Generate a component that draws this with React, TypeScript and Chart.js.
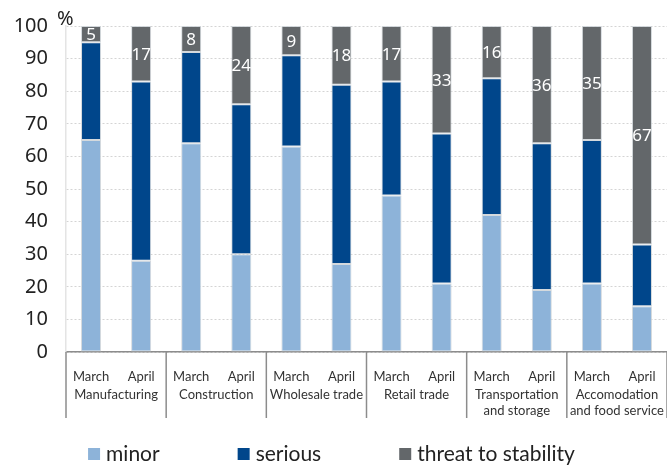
import React, { useEffect, useRef } from "react";
import { Chart, registerables } from "chart.js";

Chart.register(...registerables);

const categories = ["March", "April", "March", "April", "March", "April", "March", "April", "March", "April", "March", "April"];
const groups = [
  ["Manufacturing"],
  ["Construction"],
  ["Wholesale trade"],
  ["Retail trade"],
  ["Transportation", "and storage"],
  ["Accomodation", "and food service"],
];
const minor = [65, 28, 64, 30, 63, 27, 48, 21, 42, 19, 21, 14];
const serious = [30, 55, 28, 46, 28, 55, 35, 46, 42, 45, 44, 19];
const threat = [5, 17, 8, 24, 9, 18, 17, 33, 16, 36, 35, 67];
const seriesNames = ["minor", "serious", "threat to stability"];
const seriesColors = ["#8DB3D9", "#00468B", "#63676A"];
const yTicks = [0, 10, 20, 30, 40, 50, 60, 70, 80, 90, 100];

const CAT_FONT = "13px Lato, 'Noto Sans', sans-serif";
const LEGEND_FONT = "21px Lato, 'Noto Sans', sans-serif";

const extrasPlugin = {
  id: "extras",
  afterDraw(chart: any) {
    const ctx = chart.ctx;
    const xs = chart.scales.x;
    const ys = chart.scales.y;
    const area = chart.chartArea;
    const half = (xs.getPixelForValue(1) - xs.getPixelForValue(0)) / 2;
    ctx.save();
    // separators & group labels
    ctx.strokeStyle = "#8c8c8c";
    ctx.lineWidth = 1.5;
    for (let g = 0; g <= groups.length; g++) {
      const bx = g < groups.length ? xs.getPixelForValue(2 * g) - half : xs.getPixelForValue(2 * g - 1) + half;
      ctx.beginPath();
      ctx.moveTo(bx, area.bottom);
      ctx.lineTo(bx, area.bottom + 66);
      ctx.stroke();
    }
    ctx.fillStyle = "#333";
    ctx.font = CAT_FONT;
    ctx.textAlign = "center";
    ctx.textBaseline = "middle";
    groups.forEach((lines, g) => {
      const cx = (xs.getPixelForValue(2 * g) + xs.getPixelForValue(2 * g + 1)) / 2;
      lines.forEach((t, i) => ctx.fillText(t, cx, area.bottom + 43 + i * 16));
    });
    // percent sign
    ctx.fillStyle = "#222";
    ctx.font = "20px 'Noto Sans', sans-serif";
    ctx.textAlign = "left";
    ctx.fillText("%", area.left - 9, ys.getPixelForValue(100) - 7);
    // data labels on threat
    const meta = chart.getDatasetMeta(2);
    ctx.fillStyle = "#ffffff";
    ctx.font = "17px 'Noto Sans', sans-serif";
    ctx.textAlign = "center";
    meta.data.forEach((el: any, i: number) => {
      const p = el.getProps(["x", "y", "base"], true);
      ctx.fillText(String(threat[i]), p.x, (p.y + p.base) / 2 + 1);
    });
    // legend
    ctx.font = LEGEND_FONT;
    const box = 12;
    const gapText = 6;
    const gapItem = 78;
    const widths = seriesNames.map((n) => box + gapText + ctx.measureText(n).width);
    const total = widths.reduce((a, b) => a + b, 0) + gapItem * (widths.length - 1);
    let lx = chart.width / 2 - total / 2 - 2;
    const ly = chart.height - 13;
    ctx.textAlign = "left";
    ctx.textBaseline = "middle";
    seriesNames.forEach((n, i) => {
      ctx.fillStyle = seriesColors[i];
      ctx.fillRect(lx, ly - 6, box, box);
      ctx.fillStyle = "#222";
      ctx.fillText(n, lx + box + gapText, ly);
      lx += widths[i] + gapItem;
    });
    ctx.restore();
  },
};

export default function App() {
  const ref = useRef<HTMLCanvasElement>(null);
  useEffect(() => {
    document.body.style.margin = "0";
    const barStyle = { borderWidth: 1, borderColor: "rgba(205,210,215,0.85)", borderSkipped: false as const };
    const chart = new Chart(ref.current!, {
      type: "bar",
      data: {
        labels: categories,
        datasets: [
          { label: seriesNames[0], data: minor, backgroundColor: seriesColors[0], ...barStyle },
          { label: seriesNames[1], data: serious, backgroundColor: seriesColors[1], ...barStyle },
          { label: seriesNames[2], data: threat, backgroundColor: seriesColors[2], ...barStyle },
        ],
      },
      options: {
        animation: false,
        responsive: true,
        maintainAspectRatio: false,
        layout: { padding: { top: 26, right: 0, left: 0, bottom: 45 } },
        datasets: { bar: { barPercentage: 0.4, categoryPercentage: 1 } },
        plugins: { legend: { display: false }, tooltip: { enabled: false } },
        scales: {
          x: {
            stacked: true,
            grid: { display: false },
            border: { display: true, color: "#8c8c8c", width: 1.5 },
            ticks: { color: "#333", font: { family: "Lato, 'Noto Sans', sans-serif", size: 13 }, padding: 9, maxRotation: 0, autoSkip: false },
            afterFit: (s: any) => { s.height = 70; s.paddingLeft = 0; s.paddingRight = 0; },
          },
          y: {
            stacked: true,
            min: 0,
            max: 100,
            afterBuildTicks: (s: any) => { s.ticks = yTicks.map((v) => ({ value: v })); },
            grid: { color: "#d4d4d4", drawTicks: false, lineWidth: 1 },
            border: { display: true, color: "#e4e4e4", width: 1.5, dash: [2, 2] },
            ticks: { color: "#222", font: { family: "'Noto Sans', sans-serif", size: 20 }, padding: 18 },
            afterFit: (s: any) => { s.width = 66; s.paddingTop = 0; s.paddingBottom = 0; },
          },
        },
      },
      plugins: [extrasPlugin],
    });
    return () => chart.destroy();
  }, []);
  return (
    <div style={{ width: 667, height: 467, position: "relative" }}>
      <canvas ref={ref} />
    </div>
  );
}
